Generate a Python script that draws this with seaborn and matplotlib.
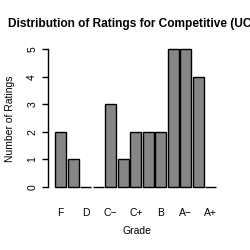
import matplotlib
matplotlib.use("Agg")
import matplotlib.pyplot as plt
import seaborn as sns

grades = ["F", "D-", "D", "D+", "C-", "C", "C+", "B-", "B", "B+", "A-", "A", "A+"]
counts = [2, 1, 0, 0, 3, 1, 2, 2, 2, 5, 5, 4, 0]
shown_labels = ["F", "D", "C\u2212", "C+", "B", "A\u2212", "A+"]

sns.set_style("white")
plt.rcParams['font.family'] = ['Liberation Sans', 'DejaVu Sans']
plt.rcParams['text.color'] = 'black'
plt.rcParams['xtick.color'] = 'black'
plt.rcParams['ytick.color'] = 'black'

W = 250.0
fig = plt.figure(figsize=(2.5, 2.5), dpi=100)
# axes box in pixels: x 48..225, y(top) 43.8..186.7
ax = fig.add_axes([48 / W, (W - 186.7) / W, 177 / W, 142.9 / W])

sns.barplot(x=grades, y=counts, order=grades, color="#868686", saturation=1,
            edgecolor="black", linewidth=1.0, width=0.88, ax=ax)
for p in ax.patches:
    p.set_clip_on(False)

# pitch 12.5px, first bar center at 60.75px
ax.set_xlim(-(60.75 - 48) / 12.5, (225 - 60.75) / 12.5)
ax.set_ylim(0, 5.2)

for s in ["top", "right", "bottom"]:
    ax.spines[s].set_visible(False)
ax.spines["left"].set_bounds(0, 5)
ax.spines["left"].set_linewidth(1.0)
ax.spines["left"].set_color("black")

ax.set_yticks(range(6))
ax.set_yticklabels([str(i) for i in range(6)], rotation=90, va="center", fontsize=7.5)
ax.tick_params(axis="y", length=4.3, width=1.0, color="black", pad=3.5, left=True)

ax.set_xticks(range(0, 13, 2))
ax.set_xticklabels(shown_labels, fontsize=7.5)
ax.tick_params(axis="x", length=0, pad=15)

ax.set_xlabel("")
ax.set_ylabel("")
fig.text(137 / W, 1 - 230.7 / W, "Grade", ha="center", va="center", fontsize=7.5)
fig.text(10 / W, 1 - 119 / W, "Number of Ratings", ha="center", va="center",
         rotation=90, fontsize=7.5)
fig.text(8 / W, 1 - 24 / W, "Distribution of Ratings for Competitive (UCLA)",
         ha="left", va="center", fontsize=8.6, fontweight="bold")

fig.savefig("out.png", dpi=100)
